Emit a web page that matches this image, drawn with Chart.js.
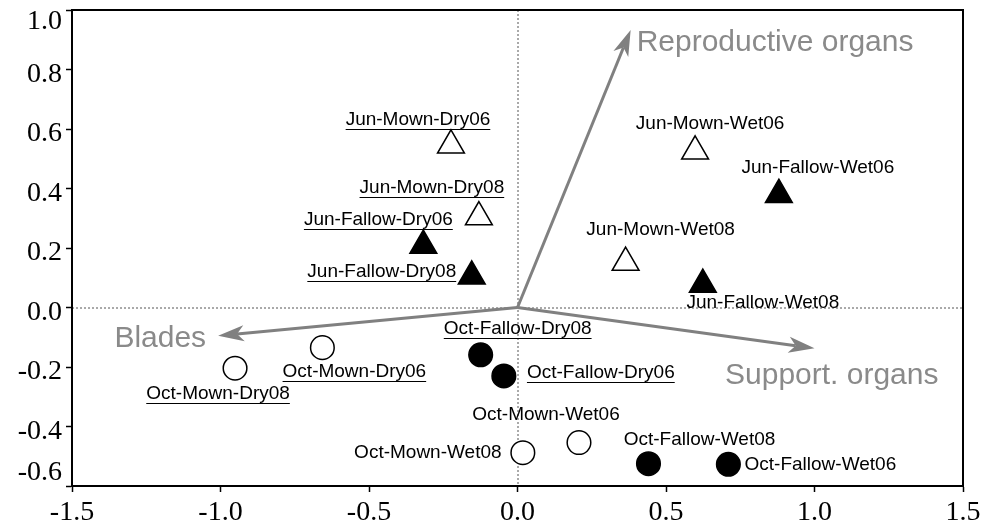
<!DOCTYPE html>
<html>
<head>
<meta charset="utf-8">
<script src="https://cdn.jsdelivr.net/npm/chart.js@4.4.1/dist/chart.umd.min.js"></script>
<style>
  html, body { margin: 0; padding: 0; background: #fff; }
  canvas { display: block; }
</style>
</head>
<body>
<canvas id="biplot" width="985" height="528"></canvas>
<script>
// sample scores on the two ordination axes
const samples = [
  "Jun-Mown-Dry06", "Jun-Mown-Dry08", "Jun-Fallow-Dry06", "Jun-Fallow-Dry08",
  "Jun-Mown-Wet06", "Jun-Fallow-Wet06", "Jun-Mown-Wet08", "Jun-Fallow-Wet08",
  "Oct-Mown-Dry08", "Oct-Mown-Dry06", "Oct-Fallow-Dry08", "Oct-Fallow-Dry06",
  "Oct-Mown-Wet08", "Oct-Mown-Wet06", "Oct-Fallow-Wet08", "Oct-Fallow-Wet06"
];
const scoreX = [-0.224, -0.13, -0.317, -0.154, 0.598, 0.88, 0.364, 0.624,
  -0.951, -0.657, -0.124, -0.046, 0.018, 0.207, 0.441, 0.71];
const scoreY = [0.545, 0.304, 0.208, 0.105, 0.525, 0.379, 0.151, 0.077,
  -0.204, -0.135, -0.159, -0.23, -0.488, -0.454, -0.525, -0.527];

// variable vectors
const vectorNames = ["Reproductive organs", "Blades", "Support. organs"];
const vectorX = [0.381, -1.008, 1.0];
const vectorY = [0.933, -0.095, -0.137];

const xTicks = [-1.5, -1.0, -0.5, 0.0, 0.5, 1.0, 1.5];
const yTicks = [-0.6, -0.4, -0.2, 0.0, 0.2, 0.4, 0.6, 0.8, 1.0];

// label placement (pixels from the marker / arrow tip)
const labelShift = [
  [-33, -25.5], [-47, -29], [-45, -26], [-90, -4],
  [15, -28], [39, -27], [35, -33], [60, 18],
  [-17, 26], [32, 24], [37, -26], [97, -3],
  [-95, 0], [-33, -28], [51, -24], [92, 0]
];
const vectorLabelShift = [[6, 13, "left"], [-12, 3, "right"], [-89.5, 27, "left"]];
const yLabelShift = [-13, 5, 5, 5, 5, 5, 5, 5, 12];

const GREY = "#808080";

function groupPoints(season, mgmt) {
  const pts = [];
  samples.forEach((name, i) => {
    const parts = name.split("-");
    if (parts[0] === season && parts[1] === mgmt) {
      pts.push({ x: scoreX[i], y: scoreY[i] });
    }
  });
  return pts;
}

function markerSet(season, mgmt) {
  const tri = season === "Jun";
  return {
    label: season + " " + mgmt,
    data: groupPoints(season, mgmt),
    pointStyle: tri ? "triangle" : "circle",
    pointRadius: tri ? 15.5 : 11.8,
    pointBackgroundColor: mgmt === "Fallow" ? "#000" : "#fff",
    pointBorderColor: "#000",
    pointBorderWidth: 1.5,
    showLine: false,
  };
}

// zero lines and arrows under the markers, labels on top
const biplotDecor = {
  id: "biplotDecor",
  beforeDraw(chart) {
    const items = chart.scales.y.getLabelItems(chart.chartArea);
    if (!items._shifted) {
      items.forEach((it, i) => { it.options.translation[1] += yLabelShift[i] || 0; });
      items._shifted = true;
    }
  },
  beforeDatasetsDraw(chart) {
    const { ctx, chartArea: a, scales: { x, y } } = chart;
    const x0 = x.getPixelForValue(0);
    const y0 = y.getPixelForValue(0);
    ctx.save();
    ctx.strokeStyle = "#555";
    ctx.lineWidth = 1;
    ctx.setLineDash([2, 2]);
    ctx.beginPath();
    ctx.moveTo(a.left, y0 + 0.5);
    ctx.lineTo(a.right, y0 + 0.5);
    ctx.moveTo(x0 + 0.5, a.top);
    ctx.lineTo(x0 + 0.5, a.bottom);
    ctx.stroke();
    ctx.setLineDash([]);

    vectorNames.forEach((name, i) => {
      const x1 = x.getPixelForValue(vectorX[i]);
      const y1 = y.getPixelForValue(vectorY[i]);
      const ang = Math.atan2(y1 - y0, x1 - x0);
      const c = Math.cos(ang), s = Math.sin(ang);
      const len = 26, half = 8, notch = 19;
      ctx.strokeStyle = GREY;
      ctx.fillStyle = GREY;
      ctx.lineWidth = 3;
      ctx.beginPath();
      ctx.moveTo(x0, y0);
      ctx.lineTo(x1 - c * notch, y1 - s * notch);
      ctx.stroke();
      ctx.beginPath();
      ctx.moveTo(x1, y1);
      ctx.lineTo(x1 - c * len - s * half, y1 - s * len + c * half);
      ctx.lineTo(x1 - c * notch, y1 - s * notch);
      ctx.lineTo(x1 - c * len + s * half, y1 - s * len - c * half);
      ctx.closePath();
      ctx.fill();

      const [dx, dy, align] = vectorLabelShift[i];
      ctx.font = "30px 'Liberation Sans', Arial, sans-serif";
      ctx.fillStyle = "#8a8a8a";
      ctx.textAlign = align;
      ctx.textBaseline = "middle";
      ctx.fillText(name, x1 + dx, y1 + dy);
    });
    ctx.restore();
  },
  afterDatasetsDraw(chart) {
    const { ctx, scales: { x, y } } = chart;
    ctx.save();
    ctx.font = "19px 'Liberation Sans', Arial, sans-serif";
    ctx.fillStyle = "#000";
    ctx.strokeStyle = "#000";
    ctx.textAlign = "center";
    ctx.textBaseline = "middle";
    samples.forEach((name, i) => {
      const cx = x.getPixelForValue(scoreX[i]) + labelShift[i][0];
      const cy = y.getPixelForValue(scoreY[i]) + labelShift[i][1];
      ctx.fillText(name, cx, cy);
      if (name.includes("Dry")) {
        const w = ctx.measureText(name).width;
        ctx.lineWidth = 1.2;
        ctx.beginPath();
        ctx.moveTo(cx - w / 2, Math.round(cy + 9) + 0.5);
        ctx.lineTo(cx + w / 2, Math.round(cy + 9) + 0.5);
        ctx.stroke();
      }
    });
    ctx.restore();
  },
  afterDraw(chart) {
    const { ctx, chartArea: a } = chart;
    ctx.save();
    ctx.strokeStyle = "#000";
    ctx.lineWidth = 2;
    ctx.strokeRect(a.left, a.top, a.right - a.left, a.bottom - a.top);
    ctx.restore();
  }
};

const tickFont = { family: "'Liberation Serif', 'Times New Roman', serif", size: 28 };
const fmt = (v) => (Math.abs(v) < 1e-9 ? 0 : v).toFixed(1);
const noOverhang = (scale) => {
  scale.paddingTop = 0;
  scale.paddingBottom = 0;
  scale.paddingLeft = 0;
  scale.paddingRight = 0;
};

new Chart(document.getElementById("biplot"), {
  type: "scatter",
  data: {
    datasets: [
      markerSet("Jun", "Mown"),
      markerSet("Jun", "Fallow"),
      markerSet("Oct", "Mown"),
      markerSet("Oct", "Fallow"),
    ],
  },
  options: {
    responsive: false,
    animation: false,
    events: [],
    layout: { autoPadding: false, padding: { top: 10, right: 22, left: 0, bottom: 0 } },
    plugins: { legend: { display: false }, tooltip: { enabled: false } },
    scales: {
      x: {
        type: "linear",
        min: -1.5,
        max: 1.5,
        afterBuildTicks: (scale) => { scale.ticks = xTicks.map((v) => ({ value: v })); },
        afterFit: (scale) => { scale.height = 42; noOverhang(scale); },
        ticks: { font: tickFont, color: "#000", padding: 4, maxRotation: 0, autoSkip: false, callback: fmt },
        grid: { drawOnChartArea: false, drawTicks: true, tickLength: 6, tickColor: "#000", tickWidth: 1.5 },
        border: { color: "#000", width: 2 },
      },
      y: {
        type: "linear",
        min: -0.6,
        max: 1.0,
        afterBuildTicks: (scale) => { scale.ticks = yTicks.map((v) => ({ value: v })); },
        afterFit: (scale) => { scale.width = 72; noOverhang(scale); },
        ticks: { font: tickFont, color: "#000", padding: 4, autoSkip: false, callback: fmt },
        grid: { drawOnChartArea: false, drawTicks: true, tickLength: 6, tickColor: "#000", tickWidth: 1.5 },
        border: { color: "#000", width: 2 },
      },
    },
  },
  plugins: [biplotDecor],
});
</script>
</body>
</html>
